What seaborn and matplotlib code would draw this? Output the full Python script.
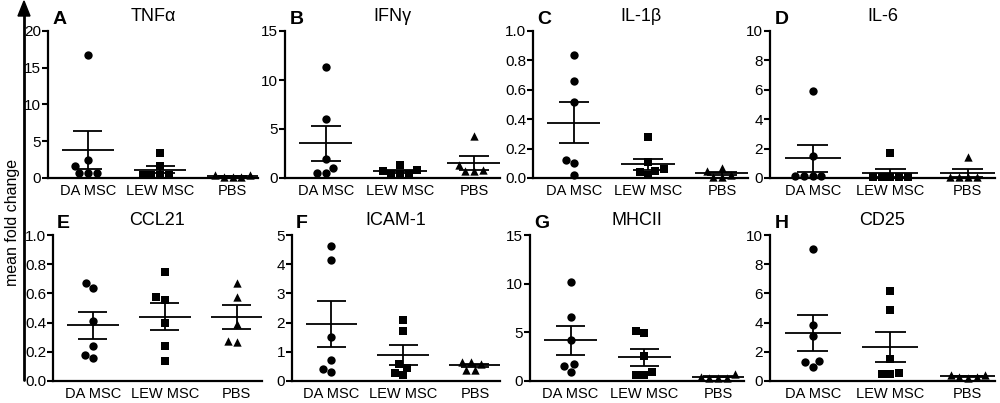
import numpy as np
import pandas as pd
import seaborn as sns
import matplotlib.pyplot as plt

# Values (fold change per animal)
groups = ['DA MSC', 'LEW MSC', 'PBS']
markers = ['o', 's', '^']

tnfa = [[16.8, 2.4, 1.6, 0.63, 0.63, 0.63],
        [3.36, 1.7, 0.45, 0.45, 0.45, 0.45],
        [0.4, 0.2, 0.15, 0.2, 0.35]]
ifng = [[11.37, 6.06, 1.95, 1.0, 0.5, 0.5],
        [1.3, 0.8, 0.45, 0.45, 0.45, 0.7],
        [4.3, 1.3, 0.8, 0.7, 0.7]]
il1b = [[0.84, 0.66, 0.52, 0.12, 0.10, 0.02],
        [0.28, 0.11, 0.05, 0.02, 0.04, 0.06],
        [0.07, 0.05, 0.01, 0.01, 0.02]]
il6 = [[5.9, 1.53, 0.15, 0.15, 0.15, 0.15],
       [1.7, 0.08, 0.08, 0.08, 0.08, 0.08],
       [1.45, 0.05, 0.05, 0.05, 0.05]]
ccl21 = [[0.67, 0.635, 0.41, 0.24, 0.157, 0.178],
         [0.744, 0.573, 0.554, 0.395, 0.238, 0.136],
         [0.674, 0.577, 0.39, 0.266, 0.277]]
icam1 = [[4.63, 4.14, 1.52, 0.72, 0.3, 0.4],
         [2.1, 1.72, 0.57, 0.45, 0.19, 0.28],
         [0.66, 0.58, 0.39, 0.39, 0.64]]
mhcii = [[10.17, 6.53, 4.23, 1.7, 1.5, 0.93],
         [5.13, 4.9, 2.53, 0.93, 0.57, 0.6],
         [0.7, 0.35, 0.35, 0.35, 0.45]]
cd25 = [[9.03, 3.81, 3.05, 1.38, 1.31, 0.99],
        [6.19, 4.85, 1.49, 0.56, 0.45, 0.5],
        [0.38, 0.25, 0.22, 0.3, 0.4]]

panels = [
    ('A', 'TNF\u03b1', tnfa, 20, 5, '{:.0f}'),
    ('B', 'IFN\u03b3', ifng, 15, 5, '{:.0f}'),
    ('C', 'IL-1\u03b2', il1b, 1.0, 0.2, '{:.1f}'),
    ('D', 'IL-6', il6, 10, 2, '{:.0f}'),
    ('E', 'CCL21', ccl21, 1.0, 0.2, '{:.1f}'),
    ('F', 'ICAM-1', icam1, 5, 1, '{:.0f}'),
    ('G', 'MHCII', mhcii, 15, 5, '{:.0f}'),
    ('H', 'CD25', cd25, 10, 2, '{:.0f}'),
]

# axes boxes in pixels: left, top, right, bottom
W, H = 1000, 403
boxes = [(48, 31, 258, 178), (285, 31, 500, 178), (533, 31, 748, 178), (770, 31, 995, 178),
         (53, 235, 262, 381), (292, 235, 500, 381), (530, 235, 744, 381), (770, 235, 995, 381)]

sns.set_theme(style='ticks')
plt.rcParams['font.family'] = ['Liberation Sans', 'DejaVu Sans']
plt.rcParams['text.color'] = 'black'
plt.rcParams['xtick.color'] = 'black'
plt.rcParams['ytick.color'] = 'black'

fig = plt.figure(figsize=(10, 4.03), dpi=100)

for (letter, title, vals, ymax, step, fmt), (l, t, r, b) in zip(panels, boxes):
    ax = fig.add_axes([l / W, 1 - b / H, (r - l) / W, (b - t) / H])
    df = pd.DataFrame({'group': [g for g, v in zip(groups, vals) for _ in v],
                       'value': [x for v in vals for x in v]})
    for g, m in zip(groups, markers):
        sns.swarmplot(data=df[df['group'] == g], x='group', y='value', order=groups,
                      marker=m, color='black', size=6, ax=ax, clip_on=False, zorder=3)
    # mean +/- SEM
    for i, v in enumerate(vals):
        v = np.array(v)
        mean = v.mean()
        sem = v.std(ddof=1) / np.sqrt(len(v))
        ax.hlines(mean, i - 0.36, i + 0.36, color='black', lw=1.3, zorder=4)
        ax.vlines(i, mean - sem, mean + sem, color='black', lw=1.3, zorder=4)
        ax.hlines([mean - sem, mean + sem], i - 0.2, i + 0.2, color='black', lw=1.3, zorder=4)
    ax.set_xlim(-0.55, 2.35)
    ax.set_ylim(0, ymax)
    ticks = np.arange(0, ymax + step / 2, step)
    ax.set_yticks(ticks)
    ax.set_yticklabels([fmt.format(x) for x in ticks])
    ax.set_xlabel('')
    ax.set_ylabel('')
    ax.tick_params(axis='x', length=0, labelsize=10.5, pad=4)
    ax.tick_params(axis='y', length=4, width=1.5, labelsize=11, pad=1)
    sns.despine(ax=ax)
    for s in ['left', 'bottom']:
        ax.spines[s].set_linewidth(1.6)
        ax.spines[s].set_color('black')
    ax.text(0.02, 1.02, letter, transform=ax.transAxes, fontsize=14, fontweight='bold',
            ha='left', va='bottom')
    ax.text(0.5, 1.04, title, transform=ax.transAxes, fontsize=13, ha='center', va='bottom')

# shared y-axis arrow and label
fig.add_artist(plt.Line2D([24 / W, 24 / W], [1 - 380 / H, 1 - 12 / H], color='black', lw=2))
fig.patches.append(plt.Polygon([[18 / W, 1 - 16 / H], [30 / W, 1 - 16 / H], [24 / W, 1 - 1 / H]],
                               closed=True, color='black', transform=fig.transFigure, figure=fig))
fig.text(13 / W, 1 - 222 / H, 'mean fold change', rotation=90, ha='center', va='center', fontsize=11.5)

fig.savefig('out.png', dpi=100)
